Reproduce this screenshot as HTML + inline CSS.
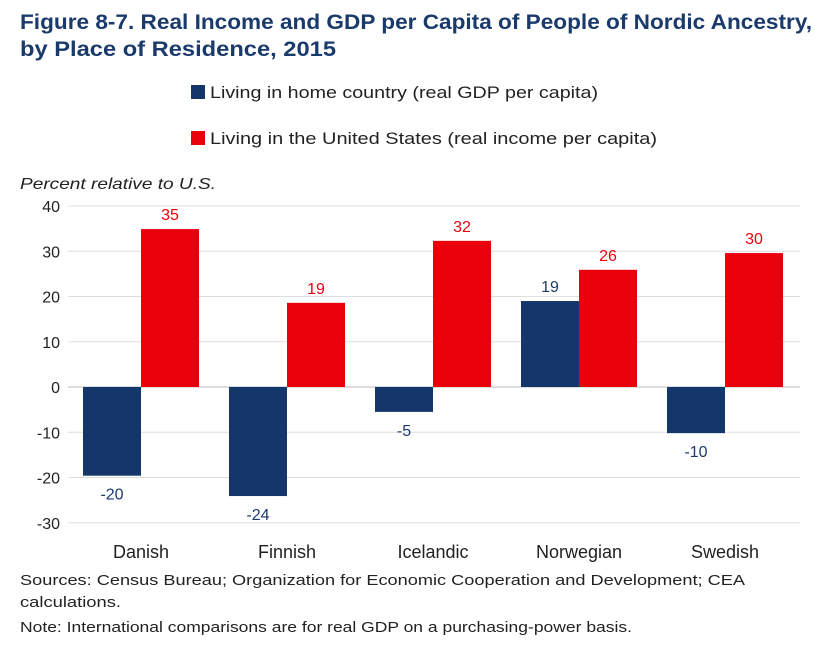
<!DOCTYPE html>
<html><head><meta charset="utf-8"><style>
body{margin:0;background:#fff;width:823px;height:643px;overflow:hidden;font-family:"Liberation Sans",sans-serif;}
</style></head><body>
<svg width="823" height="643" id="c" font-family="Liberation Sans, sans-serif">
<text x="20" y="29" font-size="21" font-weight="bold" fill="#1a3a6b" textLength="792" lengthAdjust="spacingAndGlyphs">Figure 8-7. Real Income and GDP per Capita of People of Nordic Ancestry,</text>
<text x="20" y="56" font-size="21" font-weight="bold" fill="#1a3a6b" textLength="316" lengthAdjust="spacingAndGlyphs">by Place of Residence, 2015</text>
<rect x="191" y="85" width="14" height="14" fill="#14366b"/>
<text x="210" y="98" font-size="17" fill="#222" textLength="388" lengthAdjust="spacingAndGlyphs">Living in home country (real GDP per capita)</text>
<rect x="191" y="131" width="14" height="14" fill="#e8000b"/>
<text x="210" y="144" font-size="17" fill="#222" textLength="447" lengthAdjust="spacingAndGlyphs">Living in the United States (real income per capita)</text>
<text x="20" y="189" font-size="16" font-style="italic" fill="#222" textLength="196" lengthAdjust="spacingAndGlyphs">Percent relative to U.S.</text>
<g id="grid"></g><g id="bars"></g><g id="labels"></g>
<text x="20" y="585" font-size="15" fill="#222" textLength="725" lengthAdjust="spacingAndGlyphs">Sources: Census Bureau; Organization for Economic Cooperation and Development; CEA</text>
<text x="20" y="607" font-size="15" fill="#222" textLength="101" lengthAdjust="spacingAndGlyphs">calculations.</text>
<text x="20" y="632" font-size="15" fill="#222" textLength="612" lengthAdjust="spacingAndGlyphs">Note: International comparisons are for real GDP on a purchasing-power basis.</text>
</svg>
<script>
const categories=["Danish","Finnish","Icelandic","Norwegian","Swedish"];
const homeValues=[-19.6,-24.1,-5.5,19,-10.2];
const usValues=[34.9,18.6,32.3,25.9,29.6];
const homeLabels=["-20","-24","-5","19","-10"];
const usLabels=["35","19","32","26","30"];
const yTicks=[40,30,20,10,0,-10,-20,-30];
const NS="http://www.w3.org/2000/svg";
const x0=68,x1=800,bw=146,barW=58;
const y=v=>387-v*4.525;
function mk(tag,attrs,parent,text){const e=document.createElementNS(NS,tag);for(const k in attrs)e.setAttribute(k,attrs[k]);if(text!==undefined)e.textContent=text;document.getElementById(parent).appendChild(e);return e;}
yTicks.forEach(t=>{
 const l=mk("line",{x1:x0,x2:x1,y1:y(t),y2:y(t),stroke:t===0?"#bbb":"#ddd","stroke-width":1},"grid");
 
 
 const tx=mk("text",{x:60,y:y(t)+6,"font-size":16,fill:"#222","text-anchor":"end"},"grid",String(t));
 
 
});
categories.forEach((c,i)=>{
 const cx=x0+bw*(i+0.5);
 [[homeValues[i],"#14366b",cx-barW,homeLabels[i],"#1a3a6b"],[usValues[i],"#e8000b",cx,usLabels[i],"#e8000b"]].forEach((s,j)=>{
  const v=s[0];
  const r=mk("rect",{x:s[2],y:Math.min(y(v),y(0)),width:barW,height:Math.abs(y(v)-y(0)),fill:s[1]},"bars");
  
  
  const ly=v>=0?y(v)-9:y(v)+24;
  const t=mk("text",{x:s[2]+barW/2,y:ly,"font-size":16,fill:s[4],"text-anchor":"middle"},"labels",s[3]);
  
  
 });
 const cl=mk("text",{x:cx,y:558,"font-size":18,fill:"#222","text-anchor":"middle"},"labels",c);
 
 
});
</script>
</body></html>
